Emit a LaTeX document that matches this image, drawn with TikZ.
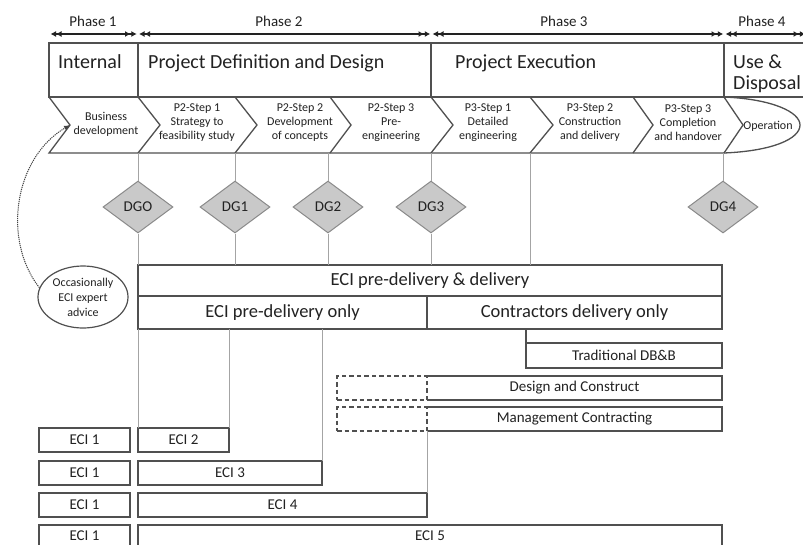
\documentclass[tikz,border=0pt]{standalone}
\usepackage{fontspec}
\setmainfont{Carlito}
\usetikzlibrary{arrows.meta,shapes.geometric}
\definecolor{ink}{HTML}{222222}
\definecolor{rule}{HTML}{505050}
\definecolor{wire}{HTML}{A4A4A4}
\definecolor{gatefill}{HTML}{C9C9C9}
\definecolor{gateline}{HTML}{8A8A8A}
\newcommand{\fsz}[2]{\fontsize{#1}{#2}\selectfont}
\begin{document}
\begin{tikzpicture}[x=1pt,y=-1pt,
  every node/.style={text=ink},
  phasebar/.style={draw=ink, line width=1.2pt,
    arrows={Latex[length=5.5pt,width=6pt,sep=0.8pt] Latex[length=5.5pt,width=6pt]-Latex[length=5.5pt,width=6pt,sep=0.8pt] Latex[length=5.5pt,width=6pt]},
    shorten <=0.7pt, shorten >=0.7pt},
  phaselabel/.style={font=\fsz{15}{18}, anchor=base, inner sep=0pt},
  frame/.style={draw=rule, line width=1.6pt, anchor=north west, inner sep=0pt, outer sep=0pt},
  hdr/.style={font=\fsz{20}{24}, anchor=base west, inner sep=0pt},
  chev/.style={draw=rule, line width=1.3pt, line join=miter},
  steptext/.style={font=\fsz{12}{14}, align=center, inner sep=0pt},
  gate/.style={diamond, draw=gateline, fill=gatefill, line width=1pt,
    minimum width=70pt, minimum height=52pt, inner sep=0pt, font=\fsz{15}{18}},
  wirel/.style={draw=wire, line width=1pt},
  band/.style={draw=rule, fill=white, line width=1.3pt, anchor=north west,
    inner sep=0pt, outer sep=0pt, font=\fsz{18.5}{22}},
  slot/.style={draw=rule, fill=white, line width=1.3pt, anchor=north west,
    inner sep=0pt, outer sep=0pt, font=\fsz{15}{18}},
  ghost/.style={draw=rule, fill=white, line width=1.2pt, anchor=north west,
    inner sep=0pt, outer sep=0pt, dash pattern=on 4.5pt off 3pt},
  advice/.style={ellipse, draw=rule, line width=1.2pt, fill=white,
    minimum width=90pt, minimum height=62pt, inner sep=0pt,
    font=\fsz{12}{15}, align=center},
  hint/.style={draw=ink!85, line width=1pt, dash pattern=on 1.2pt off 0.9pt,
    -{Latex[length=6pt,width=5pt]}}
]
\useasboundingbox[fill=white] (0,0) rectangle (803,544);

% ---------- phase arrows ----------
\coordinate (q0) at (49,34);
\coordinate (q1) at (137.5,34);
\coordinate (q2) at (431,34);
\coordinate (q3) at (724,34);
\coordinate (q4) at (806,34);
\draw[phasebar] (q0) -- (q1);
\draw[phasebar] (q1) -- (q2);
\draw[phasebar] (q2) -- (q3);
\draw[phasebar] (q3) -- (q4);
\node[phaselabel] (ph1) at (93,26.5) {Phase 1};
\node[phaselabel] (ph2) at (279,26.5) {Phase 2};
\node[phaselabel] (ph3) at (564,26.5) {Phase 3};
\node[phaselabel] (ph4) at (762,26.5) {Phase 4};

% ---------- stage header ----------
\node[frame, minimum width=89pt,  minimum height=54pt] (hInt) at (49,43) {};
\node[frame, minimum width=293pt, minimum height=54pt] (hDef) at (138,43) {};
\node[frame, minimum width=293pt, minimum height=54pt] (hExe) at (431,43) {};
\node[frame, minimum width=100pt, minimum height=54pt] (hUse) at (724,43) {};
\node[hdr] (tInt) at (58,68) {Internal};
\node[hdr] (tDef) at (148,68) {Project Definition and Design};
\node[hdr] (tExe) at (455,68) {Project Execution};
\node[hdr] (tUse) at (733,68) {Use \&};
\node[hdr] (tDis) at (733,89) {Disposal};

% ---------- step chevrons ----------
\draw[chev] (49,97) -- (70,125) -- (49,153) -- (724,153);
\draw[chev] (138,97) -- (160,125) -- (138,153);
\draw[chev] (235,97) -- (257,125) -- (235,153);
\draw[chev] (330,97) -- (351,125) -- (330,153);
\draw[chev] (431,97) -- (453,125) -- (431,153);
\draw[chev] (530,97) -- (553,125) -- (530,153);
\draw[chev] (633,97) -- (653,125) -- (633,153);
\draw[chev] (724,97) -- (743,125) -- (724,153);
\draw[chev] (724,97) .. controls (772,99) and (800,112) .. (800,125)
                     .. controls (800,139) and (772,151) .. (724,153);
\coordinate (notch) at (70,125);

\node[steptext] (s0) at (106,124) {Business\\development};
\node[steptext] (s1) at (197,123) {P2-Step 1\\Strategy to\\feasibility study};
\node[steptext] (s2) at (300,123) {P2-Step 2\\Development\\of concepts};
\node[steptext] (s3) at (391,123) {P2-Step 3\\Pre-\\engineering};
\node[steptext] (s4) at (488,123) {P3-Step 1\\Detailed\\engineering};
\node[steptext] (s5) at (590,123) {P3-Step 2\\Construction\\and delivery};
\node[steptext] (s6) at (688,123) {P3-Step 3\\Completion\\and handover};
\node[steptext] (s7) at (768,126) {Operation};

% ---------- connector ends ----------
\coordinate (c0) at (138,153);
\coordinate (c1) at (235,153);
\coordinate (c2) at (328,153);
\coordinate (c3) at (431,153);
\coordinate (c5) at (530,153);
\coordinate (c4) at (723,153);

% ---------- decision gates ----------
\node[gate] (g0) at (138,207) {DGO};
\node[gate] (g1) at (235,207) {DG1};
\node[gate] (g2) at (328,207) {DG2};
\node[gate] (g3) at (431,207) {DG3};
\node[gate] (g4) at (723,207) {DG4};

% ---------- procurement bands ----------
\node[band, minimum width=584pt, minimum height=31pt] (all) at (138,265) {ECI pre-delivery \& delivery};
\node[band, minimum width=289pt, minimum height=33pt] (pre) at (138,296) {ECI pre-delivery only};
\node[band, minimum width=295pt, minimum height=33pt] (con) at (427,296) {Contractors delivery only};

% ---------- routes ----------
\node[slot, minimum width=196pt, minimum height=25pt] (trad) at (526,343) {Traditional DB\&B};
\node[ghost, minimum width=90pt, minimum height=24pt] (dcx) at (337,376) {};
\node[slot, draw=none, fill=none, minimum width=295pt, minimum height=24pt] (dc) at (427,376) {Design and Construct};
\node[ghost, minimum width=90pt, minimum height=24pt] (mcx) at (337,407) {};
\node[slot, draw=none, fill=none, minimum width=295pt, minimum height=24pt] (mc) at (427,407) {Management Contracting};
\draw[draw=rule, line width=1.3pt] (dc.north west) -- (dc.north east) -- (dc.south east) -- (dc.south west);
\draw[draw=rule, line width=1.3pt] (mc.north west) -- (mc.north east) -- (mc.south east) -- (mc.south west);

% ---------- ECI levels ----------
\node[slot, minimum width=91pt, minimum height=24pt] (a1) at (39,428) {ECI 1};
\node[slot, minimum width=91pt, minimum height=24pt] (a2) at (39,461) {ECI 1};
\node[slot, minimum width=91pt, minimum height=24pt] (a3) at (39,493) {ECI 1};
\node[slot, minimum width=91pt, minimum height=21pt] (a4) at (39,525) {ECI 1};
\node[slot, minimum width=91pt,  minimum height=24pt] (e2) at (138,428) {ECI 2};
\node[slot, minimum width=184pt, minimum height=24pt] (e3) at (138,461) {ECI 3};
\node[slot, minimum width=289pt, minimum height=24pt] (e4) at (138,493) {ECI 4};
\node[slot, minimum width=584pt, minimum height=21pt] (e5) at (138,525) {ECI 5};

% ---------- gate and level connectors ----------
\draw[wirel] (c0) -- (g0.north);
\draw[wirel] (c1) -- (g1.north);
\draw[wirel] (c2) -- (g2.north);
\draw[wirel] (c3) -- (g3.north);
\draw[wirel] (c4) -- (g4.north);
\draw[wirel] (g1.south) -- (g1.south |- all.north);
\draw[wirel] (g2.south) -- (g2.south |- all.north);
\draw[wirel] (g3.south) -- (g3.south |- all.north);
\draw[wirel] (g0.south) -- (all.north west);
\draw[wirel] (c5) -- (c5 |- all.north);
\draw[wirel] (pre.south west) -- (e2.north west);
\draw[wirel] (e2.north east |- pre.south) -- (e2.north east);
\draw[wirel] (e3.north east |- pre.south) -- (e3.north east);
\draw[wirel] (mc.south west) -- (e4.north east);
\draw[draw=rule, line width=1.3pt] (trad.north west |- con.south) -- (trad.north west);

% ---------- occasional expert advice ----------
\node[advice] (adv) at (83,297) {Occasionally\\ECI expert\\advice};
\draw[hint] (adv.168) .. controls (2,240) and (14,158) .. (notch);
\end{tikzpicture}
\end{document}
